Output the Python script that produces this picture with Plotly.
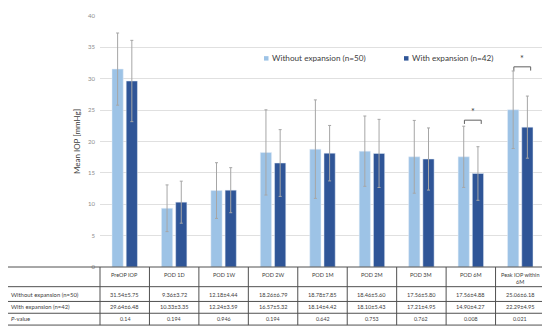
import plotly.graph_objects as go

categories = ["PreOP IOP", "POD 1D", "POD 1W", "POD 2W", "POD 1M", "POD 2M", "POD 3M", "POD 6M", "Peak IOP within 6M"]
header_labels = ["PreOP IOP", "POD 1D", "POD 1W", "POD 2W", "POD 1M", "POD 2M", "POD 3M", "POD 6M", "Peak IOP within<br>6M"]
without_mean = [31.54, 9.36, 12.18, 18.26, 18.78, 18.46, 17.56, 17.56, 25.06]
without_sd = [5.75, 3.72, 4.44, 6.79, 7.85, 5.60, 5.80, 4.88, 6.18]
with_mean = [29.64, 10.33, 12.24, 16.57, 18.14, 18.10, 17.21, 14.90, 22.29]
with_sd = [6.48, 3.35, 3.59, 5.32, 4.42, 5.43, 4.95, 4.27, 4.95]
p_values = ["0.14", "0.194", "0.946", "0.194", "0.642", "0.753", "0.762", "0.008", "0.021"]
sig_index = [7, 8]
sig_level = [23.4, 31.9]
name_without = "Without expansion (n=50)"
name_with = "With expansion (n=42)"

LIGHT = "#9DC3E6"
DARK = "#2F5597"
ERR = "#A6A6A6"
TXT = "#404040"
FONT = "Lato, Open Sans, sans-serif"

fig = go.Figure()
fig.add_trace(go.Bar(x=list(range(9)), y=without_mean, name=name_without, marker_color=LIGHT,
                     showlegend=False,
                     error_y=dict(type="data", array=without_sd, color=ERR, thickness=1, width=1.5)))
fig.add_trace(go.Bar(x=list(range(9)), y=with_mean, name=name_with, marker_color=DARK,
                     showlegend=False,
                     error_y=dict(type="data", array=with_sd, color=ERR, thickness=1, width=1.5)))

# the page has an 8px body margin, so the figure is 8px smaller than the window
TOP = 4
fig.update_layout(
    width=542, height=323,
    margin=dict(l=92, r=5, t=TOP, b=64),
    paper_bgcolor="white", plot_bgcolor="white",
    barmode="group", bargap=0.425, bargroupgap=0.21,
    font=dict(family=FONT, color=TXT),
    xaxis=dict(range=[-0.5, 8.5], showticklabels=False, showgrid=False, zeroline=False,
               showline=False, ticks=""),
    yaxis=dict(range=[0, 40], dtick=5,
               showgrid=True, gridcolor="#E0E0E0", gridwidth=1,
               zeroline=False, showline=False, tickfont=dict(size=6, color="#8C8C8C"),
               ticklabelstandoff=4, ticklabeloverflow="allow",
               title=dict(text="Mean IOP [mmHg]", font=dict(size=8, color=TXT), standoff=6)),
)

PH = 323 - TOP - 64  # plot height in px

def px(p):
    return (p - 100) / 445.0

def py(p):
    return (267 - p) / float(PH)

# legend drawn as swatches + text
for name, col, xs in [(name_without, LIGHT, 264), (name_with, DARK, 404)]:
    fig.add_shape(type="rect", xref="paper", yref="paper", x0=px(xs), x1=px(xs + 4.5),
                  y0=py(57.3), y1=py(52.8), fillcolor=col, line=dict(width=0))
    fig.add_annotation(xref="paper", yref="paper", x=px(xs + 5.5), y=py(55), text=name,
                       showarrow=False, xanchor="left", yanchor="middle",
                       font=dict(size=8.2, color=TXT))

# significance brackets
for idx, lvl in zip(sig_index, sig_level):
    x0, x1 = idx - 0.13, idx + 0.21
    fig.add_shape(type="path", xref="x", yref="y",
                  path=f"M {x0} {lvl-0.6} L {x0} {lvl} L {x1} {lvl} L {x1} {lvl-0.6}",
                  line=dict(color="#606060", width=1))
    fig.add_annotation(x=(x0 + x1) / 2, y=lvl + 0.2, xref="x", yref="y", text="*",
                       showarrow=False, xanchor="center", yanchor="bottom",
                       font=dict(size=9, color=TXT))

# table
row_lines = [267, 287, 302, 314, 326]
left = px(5)
for r in row_lines:
    fig.add_shape(type="line", xref="paper", yref="paper", x0=left, x1=1, y0=py(r), y1=py(r),
                  line=dict(color="#505050", width=1))
for xv in [left] + [i / 9.0 for i in range(10)]:
    fig.add_shape(type="line", xref="paper", yref="paper", x0=xv, x1=xv, y0=py(267), y1=py(326),
                  line=dict(color="#505050", width=1))

row_names = [name_without, name_with, "<i>P</i>-value"]
row_centers = [294.7, 307.5, 319.8]
for nm, rc in zip(row_names, row_centers):
    fig.add_annotation(xref="paper", yref="paper", x=px(9), y=py(rc), text=nm,
                       showarrow=False, xanchor="left", yanchor="middle", font=dict(size=5.9, color=TXT))

for i in range(9):
    xc = (i + 0.5) / 9.0
    fig.add_annotation(xref="paper", yref="paper", x=xc, y=py(270.3), text=header_labels[i],
                       showarrow=False, xanchor="center", yanchor="top", font=dict(size=5.5, color=TXT))
    fig.add_annotation(xref="paper", yref="paper", x=xc, y=py(row_centers[0]),
                       text=f"{without_mean[i]:.2f}±{without_sd[i]:.2f}", xanchor="center",
                       showarrow=False, yanchor="middle", font=dict(size=5.6, color=TXT))
    fig.add_annotation(xref="paper", yref="paper", x=xc, y=py(row_centers[1]),
                       text=f"{with_mean[i]:.2f}±{with_sd[i]:.2f}", xanchor="center",
                       showarrow=False, yanchor="middle", font=dict(size=5.6, color=TXT))
    fig.add_annotation(xref="paper", yref="paper", x=xc, y=py(row_centers[2]), text=p_values[i],
                       showarrow=False, xanchor="center", yanchor="middle", font=dict(size=5.3, color=TXT))

fig.write_html("out.html")
